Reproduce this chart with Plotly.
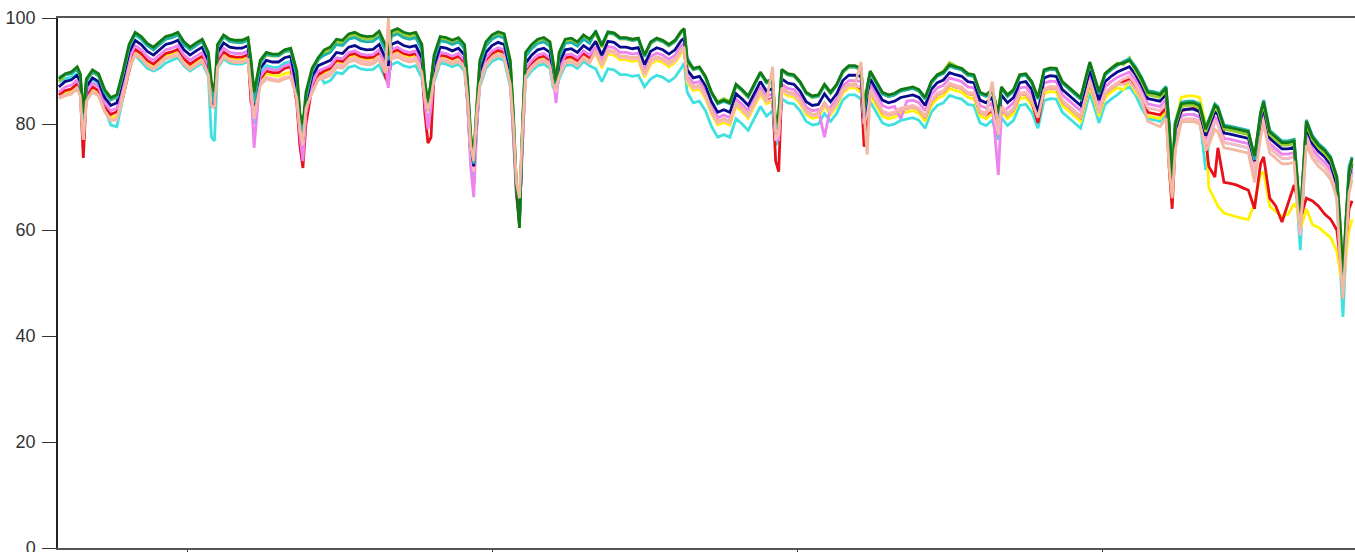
import plotly.graph_objects as go

days = [
    58, 60, 62, 64, 65, 66, 67, 69, 71, 73, 75, 77, 79, 81, 83, 85, 87, 89, 91, 93, 95, 97, 99, 101, 103,
    105, 107, 108, 109, 110, 112, 114, 116, 118, 120, 121, 122, 124, 126, 128, 130, 132, 134, 136, 137,
    138, 139, 141, 143,
    145, 147, 149, 151, 153, 155, 157, 159, 161, 163, 165, 166, 167, 169, 171, 173, 175, 177, 178, 179,
    180, 181, 183, 185, 187, 189, 191, 192, 193, 194, 195, 196, 198, 200, 202, 204, 206, 207, 208, 209,
    210, 211, 213, 215, 217, 219, 220, 221, 222, 224, 226, 228, 230, 232,
    234, 236, 238, 240, 242, 244, 246, 248, 250, 252, 254, 256, 258, 260, 262, 263, 264, 266, 268, 270,
    272, 274, 276, 278, 280, 282, 284, 286, 288, 290, 292, 293, 294, 295, 297, 299, 301, 303, 305, 307,
    309, 311, 313, 315, 317, 319,
    321, 322, 323, 324, 326, 328, 330, 332, 334, 336, 338, 340, 342, 344, 346, 348, 350, 352, 354, 356,
    358, 360, 362, 364, 366, 367, 369, 371, 373, 375, 377, 379, 381, 383, 385, 387, 389, 391, 393, 395,
    396, 398, 399, 401, 403, 405,
    407, 409, 411, 413, 415, 417, 419, 421, 422, 423, 424, 426, 428, 430, 432, 434, 435, 437, 438, 440,
    442, 444, 446, 448, 450, 452, 453, 455, 457, 459, 461, 463, 464, 465, 467, 469, 471, 473, 475, 477,
    478, 479, 480, 481, 482,
]

dark_green = [
    88.5, 89.5, 89.8, 90.8, 89.5, 82.0, 88.5, 90.2, 89.5, 86.5, 85.0, 85.5, 90.0, 95.0, 97.3, 96.5, 95.2, 94.5, 95.5, 96.5, 96.8, 97.3, 95.5, 94.5, 95.3, 96.0, 93.5, 88.0, 86.0, 95.0, 96.8, 96.0, 95.8, 95.8, 96.3, 92.0, 86.0, 92.0, 93.5, 93.2, 93.2, 94.0, 94.3, 90.0, 82.0, 80.0, 86.0, 90.5, 92.5,
    94.0, 94.5, 96.0, 95.8, 97.0, 97.3, 96.7, 96.5, 96.6, 97.5, 95.0, 93.0, 97.5, 98.0, 97.3, 97.0, 97.3, 95.0, 88.0, 84.0, 88.0, 93.0, 96.5, 96.3, 95.8, 96.3, 95.0, 88.0, 78.0, 74.0, 84.0, 92.0, 95.5, 96.8, 97.4, 97.0, 92.0, 82.0, 68.0, 60.4, 80.0, 93.5, 95.0, 96.0, 96.3, 95.5, 92.0, 88.0, 93.5, 96.0, 96.2, 95.5, 96.8, 96.0,
    97.4, 94.8, 97.4, 97.2, 96.3, 96.3, 96.0, 96.2, 93.0, 95.5, 96.2, 95.8, 95.0, 95.8, 97.5, 98.0, 92.0, 90.5, 90.8, 89.0, 86.0, 84.0, 84.5, 84.0, 87.5, 86.5, 85.3, 87.5, 89.8, 88.0, 88.5, 80.0, 82.0, 90.3, 89.5, 89.3, 88.0, 86.0, 85.3, 85.5, 87.5, 86.0, 87.5, 90.0, 91.0, 91.0,
    90.5, 83.0, 87.0, 90.0, 88.0, 86.0, 85.5, 85.8, 86.5, 86.8, 87.0, 86.5, 85.0, 88.0, 89.3, 89.8, 91.2, 90.8, 90.5, 89.5, 89.3, 86.0, 85.5, 86.5, 82.0, 87.0, 85.5, 86.5, 89.3, 89.5, 88.0, 85.0, 90.2, 90.6, 90.5, 88.0, 87.0, 86.0, 85.0, 89.5, 91.7, 88.0, 86.0, 89.5, 90.5, 91.3,
    91.5, 92.0, 90.5, 88.5, 86.0, 85.8, 85.5, 86.8, 80.0, 70.0, 80.0, 83.8, 84.0, 84.0, 83.5, 79.0, 80.5, 83.5, 83.0, 79.5, 79.3, 79.0, 78.8, 78.5, 74.0, 82.0, 84.2, 78.5, 77.5, 76.5, 76.5, 76.8, 70.0, 62.0, 80.5, 77.5, 76.0, 75.0, 73.5, 70.0, 62.0, 52.0, 62.0, 71.0, 73.5,
]

yellow_green = [
    88.0, 89.2, 89.5, 90.5, 89.0, 81.0, 88.0, 89.8, 89.0, 86.0, 84.5, 85.0, 89.5, 94.5, 97.0, 96.2, 95.0, 94.0, 95.0, 96.0, 96.4, 96.8, 95.0, 94.2, 95.0, 95.5, 93.0, 87.0, 85.0, 94.5, 96.4, 95.6, 95.4, 95.4, 95.8, 91.5, 85.0, 91.5, 93.0, 92.8, 92.8, 93.6, 93.8, 89.5, 81.5, 79.0, 85.0, 90.0, 92.0,
    93.5, 94.0, 95.5, 95.3, 96.5, 96.8, 96.2, 96.0, 96.1, 97.0, 94.5, 93.5, 97.0, 97.5, 96.8, 96.5, 96.8, 94.5, 87.5, 84.0, 88.0, 92.5, 96.0, 95.8, 95.3, 95.8, 94.5, 87.5, 78.0, 74.0, 84.0, 91.5, 95.0, 96.3, 96.9, 96.5, 91.5, 82.0, 69.0, 63.0, 80.0, 93.0, 94.5, 95.5, 95.8, 95.0, 91.5, 88.0, 93.0, 95.5, 95.7, 95.0, 96.3, 95.5,
    97.1, 94.5, 97.1, 96.9, 96.0, 96.0, 95.7, 95.9, 92.7, 95.2, 95.9, 95.5, 94.7, 95.5, 97.2, 97.7, 91.7, 90.2, 90.5, 88.7, 85.7, 84.2, 84.8, 84.3, 87.2, 86.2, 85.0, 87.2, 89.5, 87.7, 88.2, 80.0, 82.0, 90.0, 89.2, 89.0, 87.7, 85.7, 85.0, 85.2, 87.2, 85.7, 87.2, 89.7, 90.7, 90.7,
    90.2, 83.0, 86.7, 89.7, 87.7, 85.7, 85.2, 85.5, 86.2, 86.5, 86.7, 86.2, 84.7, 87.7, 89.3, 90.0, 91.6, 91.0, 90.2, 89.2, 89.0, 85.7, 85.2, 86.2, 82.0, 86.7, 85.2, 86.2, 89.0, 89.2, 87.7, 84.7, 89.9, 90.3, 90.2, 87.7, 86.7, 85.7, 84.7, 89.2, 91.4, 88.0, 86.0, 89.5, 90.5, 91.5,
    91.2, 92.5, 90.0, 88.0, 85.5, 85.3, 85.0, 86.3, 79.5, 70.0, 79.5, 83.3, 83.5, 83.5, 83.0, 78.5, 80.0, 83.0, 82.5, 79.0, 78.8, 78.5, 78.3, 78.0, 73.5, 81.5, 83.7, 78.0, 77.0, 76.0, 76.0, 76.3, 69.5, 62.0, 80.0, 77.0, 75.5, 74.5, 73.0, 69.5, 61.5, 52.0, 61.5, 70.5, 73.0,
]

teal = [
    88.8, 89.3, 89.5, 90.3, 89.2, 79.0, 88.2, 89.8, 89.2, 86.0, 84.6, 85.2, 89.5, 94.5, 96.8, 96.0, 94.8, 94.0, 95.0, 96.0, 96.3, 96.8, 95.0, 94.0, 94.8, 95.6, 93.0, 86.0, 84.0, 94.5, 96.5, 95.6, 95.4, 95.3, 95.9, 91.0, 84.0, 91.5, 93.2, 92.9, 92.9, 93.7, 94.0, 89.0, 81.0, 78.0, 85.0, 90.0, 92.2,
    93.0, 93.5, 95.0, 94.8, 96.0, 96.3, 95.7, 95.5, 95.6, 96.5, 94.0, 92.0, 96.5, 97.0, 96.3, 96.0, 96.3, 94.0, 87.0, 83.5, 87.5, 92.2, 95.7, 95.5, 95.0, 95.5, 94.2, 87.0, 77.0, 72.5, 83.0, 91.2, 94.7, 96.0, 96.6, 96.2, 91.2, 81.0, 68.0, 62.0, 79.0, 92.7, 94.2, 95.2, 95.5, 94.7, 91.2, 87.5, 92.7, 95.2, 95.4, 94.7, 96.0, 95.2,
    97.6, 95.0, 97.2, 97.0, 96.1, 96.1, 95.8, 96.0, 92.8, 95.3, 96.0, 95.6, 94.8, 95.6, 97.3, 97.8, 92.5, 90.3, 90.6, 88.8, 85.8, 83.8, 84.3, 83.8, 87.3, 86.3, 85.1, 87.3, 89.6, 87.8, 88.3, 79.0, 81.0, 90.1, 89.3, 89.1, 87.8, 85.8, 85.1, 85.3, 87.3, 85.8, 87.3, 89.8, 90.8, 90.8,
    90.2, 82.0, 86.7, 89.7, 87.7, 85.7, 85.2, 85.5, 86.2, 86.5, 86.7, 86.2, 84.7, 87.7, 89.0, 89.5, 90.9, 90.5, 90.2, 89.2, 89.0, 85.7, 85.2, 86.2, 81.0, 86.7, 85.2, 86.2, 89.0, 89.2, 87.7, 84.7, 89.9, 90.3, 90.2, 87.7, 86.7, 85.7, 84.7, 89.2, 91.4, 87.7, 85.7, 89.2, 90.2, 91.0,
    91.8, 92.3, 90.8, 88.8, 86.3, 86.1, 85.8, 87.1, 80.3, 70.0, 80.3, 84.1, 84.3, 84.3, 83.8, 79.3, 80.8, 83.8, 83.3, 79.8, 79.6, 79.3, 79.1, 78.8, 73.2, 82.3, 84.5, 78.8, 77.8, 76.8, 76.8, 77.1, 70.0, 62.0, 80.8, 77.8, 76.3, 75.3, 73.8, 70.0, 58.0, 47.0, 62.0, 72.0, 73.8,
]

navy = [
    87.0, 88.0, 88.3, 89.2, 88.0, 78.0, 87.0, 88.7, 88.0, 85.0, 83.5, 84.0, 88.5, 93.5, 95.8, 95.0, 93.7, 93.0, 94.0, 95.0, 95.3, 95.8, 94.0, 93.0, 93.8, 94.5, 92.0, 85.0, 83.0, 93.5, 95.3, 94.5, 94.3, 94.3, 94.8, 89.0, 83.0, 90.5, 92.0, 91.7, 91.7, 92.5, 92.8, 87.0, 80.0, 77.0, 84.0, 89.0, 91.0,
    91.5, 92.0, 93.5, 93.3, 94.5, 94.8, 94.2, 94.0, 94.1, 95.0, 92.5, 91.0, 95.0, 95.5, 94.8, 94.5, 94.8, 92.5, 86.0, 82.5, 86.5, 91.0, 94.5, 94.3, 93.8, 94.3, 93.0, 86.0, 76.5, 72.0, 82.0, 90.0, 93.5, 94.8, 95.4, 95.0, 90.0, 80.0, 67.5, 61.0, 79.0, 91.5, 93.0, 94.0, 94.3, 93.5, 90.0, 87.0, 91.5, 94.0, 94.2, 93.5, 94.8, 94.0,
    95.6, 93.0, 95.6, 95.4, 94.5, 94.5, 94.2, 94.4, 91.2, 93.7, 94.4, 94.0, 93.2, 94.0, 95.7, 96.2, 90.2, 88.7, 89.0, 87.2, 84.2, 82.2, 82.7, 82.2, 85.7, 84.7, 83.5, 85.7, 88.0, 86.2, 86.7, 78.0, 80.0, 88.5, 87.7, 87.5, 86.2, 84.2, 83.5, 83.7, 85.7, 84.2, 85.7, 88.2, 89.2, 89.2,
    89.0, 81.0, 85.5, 88.5, 86.5, 84.5, 84.0, 84.3, 85.0, 85.3, 85.5, 85.0, 83.5, 86.5, 87.8, 88.3, 89.7, 89.3, 89.0, 88.0, 87.8, 84.5, 84.0, 85.0, 80.0, 85.5, 84.0, 85.0, 87.8, 88.0, 86.5, 82.0, 88.7, 89.1, 89.0, 86.5, 85.5, 84.5, 83.5, 88.0, 90.2, 86.5, 84.5, 88.0, 89.0, 89.8,
    90.3, 90.8, 89.3, 87.3, 84.8, 84.6, 84.3, 85.6, 78.8, 69.0, 78.8, 82.6, 82.8, 82.8, 82.3, 77.8, 79.3, 82.3, 81.8, 78.3, 78.1, 77.8, 77.6, 77.3, 73.0, 80.8, 83.0, 77.3, 76.3, 75.3, 75.3, 75.6, 68.8, 61.0, 79.3, 76.3, 74.8, 73.8, 72.3, 68.5, 58.0, 50.0, 60.0, 70.0, 72.5,
]

violet = [
    86.0, 87.0, 87.3, 88.3, 87.0, 77.0, 86.0, 87.7, 87.0, 84.0, 82.5, 83.0, 87.5, 92.5, 94.8, 94.0, 92.7, 92.0, 93.0, 94.0, 94.3, 94.8, 93.0, 92.0, 92.8, 93.5, 91.0, 84.0, 83.0, 92.5, 94.3, 93.5, 93.3, 93.3, 93.8, 86.0, 75.5, 89.0, 90.5, 90.2, 90.2, 91.0, 91.3, 85.0, 78.0, 73.0, 82.0, 87.5, 90.0,
    90.5, 91.0, 92.5, 92.3, 93.5, 93.8, 93.2, 93.0, 93.1, 94.0, 91.5, 86.8, 94.0, 94.5, 93.8, 93.5, 93.8, 91.5, 84.0, 79.0, 83.0, 90.0, 93.5, 93.3, 92.8, 93.3, 92.0, 84.0, 72.0, 66.2, 79.0, 89.0, 92.5, 93.8, 94.4, 94.0, 89.0, 78.0, 66.0, 62.3, 78.0, 90.5, 92.0, 93.0, 93.3, 92.5, 89.0, 84.0, 90.5, 93.0, 93.2, 92.5, 93.8, 93.0,
    94.6, 92.0, 94.6, 94.4, 93.5, 93.5, 93.2, 93.4, 90.2, 92.7, 93.4, 93.0, 92.2, 93.0, 94.7, 95.2, 89.2, 87.7, 88.0, 86.2, 83.2, 81.2, 81.7, 81.2, 84.7, 83.7, 82.5, 84.7, 87.0, 85.2, 85.7, 77.0, 77.0, 87.5, 86.7, 86.5, 85.2, 83.2, 82.5, 82.7, 77.5, 83.2, 84.7, 87.2, 88.2, 88.2,
    88.0, 80.0, 83.0, 87.5, 85.5, 83.5, 83.0, 83.3, 81.0, 84.3, 84.5, 84.0, 82.5, 85.5, 86.8, 87.3, 88.7, 88.3, 88.0, 87.0, 86.8, 83.5, 83.0, 84.0, 70.4, 82.0, 83.0, 84.0, 86.8, 87.0, 85.5, 82.5, 87.7, 88.1, 88.0, 85.5, 84.5, 83.5, 82.5, 87.0, 89.2, 85.5, 83.5, 87.0, 88.0, 88.8,
    89.3, 89.8, 88.3, 86.3, 83.8, 83.6, 83.3, 84.6, 77.8, 68.0, 77.8, 81.6, 81.8, 81.8, 81.3, 76.8, 78.3, 81.3, 80.8, 77.3, 77.1, 76.8, 76.6, 76.3, 72.0, 79.8, 82.0, 76.3, 75.3, 74.3, 74.3, 74.6, 67.8, 60.0, 78.3, 75.3, 73.8, 72.8, 71.3, 67.5, 57.0, 49.0, 59.0, 69.0, 71.5,
]

red = [
    85.5, 86.3, 86.6, 87.6, 86.3, 73.6, 85.3, 87.0, 86.3, 83.3, 81.8, 82.3, 85.0, 90.0, 94.1, 93.3, 92.0, 91.3, 92.3, 93.3, 93.6, 94.1, 92.3, 91.3, 92.1, 92.8, 90.3, 83.6, 84.0, 91.8, 93.6, 92.8, 92.6, 92.6, 93.1, 84.0, 82.5, 88.5, 90.0, 89.7, 89.7, 90.5, 90.8, 84.0, 76.0, 71.7, 80.0, 87.0, 89.3,
    90.0, 90.5, 92.0, 91.8, 93.0, 93.3, 92.7, 92.5, 92.6, 93.5, 89.0, 87.5, 93.5, 94.0, 93.3, 93.0, 93.3, 91.0, 82.0, 76.4, 77.5, 89.5, 93.0, 92.8, 92.3, 92.8, 91.5, 84.0, 74.0, 71.0, 80.0, 88.5, 92.0, 93.3, 93.9, 93.5, 88.5, 79.0, 68.0, 63.0, 78.0, 90.0, 91.5, 92.5, 92.8, 92.0, 88.5, 86.0, 90.0, 92.5, 92.7, 92.0, 93.3, 92.5,
    93.8, 91.2, 93.8, 93.6, 92.7, 92.7, 92.4, 92.6, 89.4, 91.9, 92.6, 92.2, 91.4, 92.2, 93.9, 94.4, 88.4, 86.9, 87.2, 85.4, 82.4, 80.4, 80.9, 80.4, 83.9, 82.9, 81.7, 83.9, 86.2, 84.4, 84.9, 73.0, 71.0, 86.7, 85.9, 85.7, 84.4, 82.4, 81.7, 81.9, 83.9, 82.4, 83.9, 86.4, 87.4, 87.4,
    86.7, 75.7, 80.0, 86.2, 84.2, 82.2, 81.7, 82.0, 82.7, 83.0, 83.2, 82.7, 81.2, 84.2, 85.5, 86.0, 87.4, 87.0, 86.7, 85.7, 85.5, 82.2, 81.7, 82.7, 78.0, 83.2, 81.7, 82.7, 85.5, 85.7, 84.2, 80.2, 86.4, 86.8, 86.7, 84.2, 83.2, 82.2, 81.2, 85.7, 87.9, 84.2, 82.2, 85.7, 86.7, 87.5,
    88.0, 88.4, 86.7, 85.0, 82.2, 82.0, 81.7, 83.0, 72.0, 64.0, 76.0, 82.5, 82.8, 83.0, 82.5, 77.0, 72.0, 70.0, 75.5, 69.0, 68.8, 68.5, 68.0, 67.5, 64.0, 72.5, 73.8, 66.0, 64.5, 61.5, 65.0, 68.5, 66.0, 62.0, 66.0, 65.5, 64.5, 63.0, 62.0, 60.0, 55.0, 50.0, 58.0, 64.0, 65.5,
]

yellow = [
    85.5, 86.0, 86.2, 87.2, 86.0, 78.0, 85.0, 86.6, 86.0, 83.0, 81.2, 81.5, 86.0, 91.0, 93.7, 92.8, 91.6, 91.0, 92.0, 92.8, 93.2, 93.6, 92.0, 91.0, 91.8, 92.5, 90.0, 84.0, 83.0, 91.5, 93.2, 92.4, 92.2, 92.2, 92.7, 86.0, 81.5, 88.0, 89.5, 89.2, 89.0, 89.5, 89.8, 85.5, 79.0, 76.0, 83.0, 86.5, 89.0,
    89.7, 90.2, 91.7, 91.5, 92.7, 93.0, 92.4, 92.2, 92.3, 93.2, 90.7, 90.0, 93.2, 93.7, 93.0, 92.7, 93.0, 90.7, 85.0, 83.6, 85.5, 89.2, 92.7, 92.5, 92.0, 92.5, 91.2, 85.0, 76.0, 74.2, 82.0, 88.2, 91.7, 93.0, 93.6, 93.2, 88.2, 80.0, 68.0, 64.0, 78.0, 89.7, 91.2, 92.2, 92.5, 91.7, 88.2, 86.5, 89.7, 92.2, 92.4, 91.7, 93.0, 92.2,
    93.2, 90.6, 93.2, 93.0, 92.1, 92.1, 91.8, 92.0, 88.8, 91.3, 92.0, 91.6, 90.8, 91.6, 93.3, 93.8, 87.8, 86.3, 86.6, 84.8, 81.8, 79.8, 80.3, 79.8, 83.3, 82.3, 81.1, 83.3, 85.6, 83.8, 84.3, 77.0, 78.0, 86.1, 85.3, 85.1, 83.8, 81.8, 81.1, 81.3, 83.3, 81.8, 83.3, 85.8, 86.8, 86.8,
    86.0, 80.0, 82.0, 85.5, 83.5, 81.5, 81.0, 81.3, 82.0, 82.3, 82.5, 82.0, 80.5, 83.5, 84.8, 85.3, 86.7, 86.3, 86.0, 85.0, 84.8, 81.5, 81.0, 82.0, 78.0, 82.5, 81.0, 82.0, 84.8, 85.0, 83.5, 81.0, 85.7, 86.1, 86.0, 83.5, 82.5, 81.5, 80.5, 85.0, 87.2, 83.5, 81.5, 85.0, 86.0, 86.8,
    86.5, 88.0, 86.0, 84.5, 81.5, 81.3, 81.0, 82.5, 72.0, 65.0, 80.0, 85.0, 85.3, 85.3, 85.0, 80.0, 68.0, 65.7, 64.5, 63.2, 62.8, 62.5, 62.2, 62.0, 65.0, 70.5, 71.0, 64.5, 63.5, 62.5, 63.0, 65.0, 64.0, 60.0, 64.0, 61.0, 60.5, 59.5, 58.5, 56.0, 52.0, 48.7, 55.0, 60.0, 62.0,
]

light_pink = [
    85.0, 85.5, 85.8, 86.8, 85.5, 77.5, 84.5, 86.2, 85.5, 82.5, 80.8, 81.0, 85.5, 90.5, 93.3, 92.5, 91.2, 90.5, 91.5, 92.5, 92.8, 93.3, 91.5, 90.5, 91.3, 92.0, 89.5, 83.5, 83.0, 91.0, 92.8, 92.0, 91.8, 91.8, 92.3, 87.0, 81.0, 87.5, 88.8, 88.5, 88.3, 88.8, 89.0, 85.0, 79.0, 76.0, 83.0, 86.0, 88.5,
    89.2, 89.7, 91.2, 91.0, 92.2, 92.5, 91.9, 91.7, 91.8, 92.7, 90.2, 91.0, 92.7, 93.2, 92.5, 92.2, 92.5, 90.2, 85.0, 82.0, 85.0, 88.8, 92.3, 92.1, 91.6, 92.1, 90.8, 85.0, 75.0, 71.0, 81.0, 87.8, 91.3, 92.6, 93.2, 92.8, 87.8, 79.0, 67.0, 63.0, 78.0, 89.3, 90.8, 91.8, 92.1, 91.3, 87.8, 86.0, 89.3, 91.8, 92.0, 91.3, 92.6, 91.8,
    93.6, 91.0, 93.6, 93.4, 92.5, 92.5, 92.2, 92.4, 89.2, 91.7, 92.4, 92.0, 91.2, 92.0, 93.7, 94.2, 88.2, 86.7, 87.0, 85.2, 82.2, 80.2, 80.7, 80.2, 83.7, 82.7, 81.5, 83.7, 86.0, 84.2, 84.7, 77.0, 78.0, 86.5, 85.7, 85.5, 84.2, 82.2, 81.5, 81.7, 83.7, 82.2, 83.7, 86.2, 87.2, 87.2,
    87.0, 80.0, 82.0, 86.5, 84.5, 82.5, 82.0, 82.3, 83.0, 83.3, 83.5, 83.0, 81.5, 84.5, 85.8, 86.3, 87.7, 87.3, 87.0, 86.0, 85.8, 82.5, 82.0, 83.0, 78.0, 83.5, 82.0, 83.0, 85.8, 86.0, 84.5, 81.5, 86.7, 87.1, 87.0, 84.5, 83.5, 82.5, 81.5, 86.0, 88.2, 84.5, 82.5, 86.0, 87.0, 87.8,
    88.5, 89.0, 87.5, 85.5, 83.0, 82.8, 82.5, 83.8, 76.0, 67.0, 77.0, 80.8, 81.0, 81.0, 80.5, 76.0, 77.5, 80.5, 80.0, 76.5, 76.3, 76.0, 75.8, 75.5, 71.0, 79.0, 81.2, 75.5, 74.5, 73.5, 73.5, 73.8, 67.0, 59.0, 77.5, 74.5, 73.0, 72.0, 70.5, 67.0, 56.0, 48.0, 58.0, 68.0, 70.5,
]

peach = [
    84.8, 85.3, 85.6, 86.6, 85.3, 77.0, 84.3, 86.0, 85.3, 82.3, 80.6, 80.8, 85.0, 90.3, 93.0, 92.3, 91.0, 90.3, 91.3, 92.3, 92.6, 93.0, 91.3, 90.3, 91.1, 91.8, 89.3, 83.5, 83.0, 90.8, 92.6, 91.8, 91.6, 91.6, 92.1, 87.0, 81.5, 87.3, 88.5, 88.2, 88.0, 88.5, 88.8, 85.0, 79.0, 76.5, 83.0, 85.8, 88.3,
    88.7, 89.2, 90.7, 90.5, 91.7, 92.0, 91.4, 91.2, 91.3, 92.2, 89.7, 100.0, 92.2, 92.7, 92.0, 91.7, 92.0, 89.7, 85.0, 82.5, 85.0, 88.5, 92.0, 91.8, 91.3, 91.8, 90.5, 85.0, 76.0, 73.0, 82.0, 87.5, 91.0, 92.3, 92.9, 92.5, 87.5, 80.0, 69.0, 66.0, 79.0, 89.0, 90.5, 91.5, 91.8, 91.0, 87.5, 87.0, 89.0, 91.5, 91.7, 91.0, 92.3, 91.5,
    93.9, 91.3, 93.9, 93.7, 92.8, 92.8, 92.5, 92.7, 89.5, 92.0, 92.7, 92.3, 91.5, 92.3, 94.0, 94.5, 88.5, 87.0, 87.3, 85.5, 82.5, 80.5, 81.0, 80.5, 84.0, 83.0, 81.8, 84.0, 86.3, 84.5, 90.8, 78.0, 79.0, 86.8, 86.0, 85.8, 84.5, 82.5, 81.8, 82.0, 84.0, 82.5, 84.0, 86.5, 87.5, 87.5,
    91.7, 82.0, 74.2, 86.2, 84.2, 82.2, 81.7, 82.0, 82.7, 83.0, 83.2, 82.7, 81.2, 84.2, 85.5, 86.0, 87.4, 87.0, 86.7, 85.7, 85.5, 82.2, 81.7, 88.0, 79.0, 83.2, 81.7, 82.7, 85.5, 85.7, 84.2, 81.2, 86.4, 86.8, 86.7, 84.2, 83.2, 82.2, 81.2, 85.7, 87.9, 84.2, 82.0, 85.7, 86.7, 87.5,
    87.5, 88.0, 86.5, 84.5, 80.5, 80.0, 79.5, 81.0, 72.0, 66.0, 75.0, 80.4, 80.5, 80.5, 80.0, 75.0, 76.0, 79.0, 78.5, 75.5, 75.3, 75.0, 74.8, 74.5, 69.0, 77.5, 80.0, 74.5, 73.5, 72.5, 72.5, 72.8, 65.0, 60.0, 76.0, 73.5, 72.0, 71.0, 69.5, 66.0, 55.0, 47.0, 57.0, 67.0, 69.5,
]

cyan = [
    88.0, 88.5, 88.8, 89.5, 88.0, 76.6, 87.5, 88.5, 87.5, 83.0, 79.8, 79.5, 85.0, 91.0, 93.0, 91.8, 90.5, 90.0, 90.5, 91.5, 92.0, 92.5, 91.0, 90.0, 90.8, 91.5, 89.0, 77.5, 76.8, 90.5, 92.3, 91.5, 91.3, 91.3, 91.8, 88.0, 80.0, 89.5, 91.0, 90.7, 90.7, 91.5, 91.8, 85.5, 79.0, 75.0, 83.5, 88.0, 90.0,
    87.7, 88.2, 89.7, 89.5, 90.7, 91.0, 90.4, 90.2, 90.3, 91.2, 88.7, 89.0, 91.2, 91.7, 91.0, 90.7, 91.0, 88.7, 84.0, 81.5, 85.0, 88.0, 91.5, 91.3, 90.8, 91.3, 90.0, 84.0, 73.0, 69.8, 80.0, 87.0, 90.5, 91.8, 92.4, 92.0, 87.0, 79.0, 67.0, 65.3, 78.0, 88.5, 90.0, 91.0, 91.3, 90.5, 87.0, 86.0, 88.5, 91.0, 91.2, 90.5, 91.8, 91.0,
    90.4, 88.0, 90.4, 90.2, 89.3, 89.3, 89.0, 89.2, 87.0, 88.5, 89.2, 88.8, 88.0, 88.8, 90.5, 91.5, 86.0, 84.0, 84.3, 82.5, 79.5, 77.5, 78.0, 77.5, 81.0, 80.0, 78.8, 81.0, 83.3, 81.5, 82.5, 76.0, 77.0, 84.8, 84.0, 83.8, 82.5, 80.5, 79.8, 80.0, 82.0, 80.5, 82.0, 84.5, 85.5, 85.5,
    84.7, 79.0, 81.0, 84.2, 82.2, 80.2, 79.7, 80.0, 80.7, 81.0, 81.2, 80.7, 79.2, 82.2, 83.5, 84.0, 85.4, 85.0, 84.7, 83.7, 83.5, 80.2, 79.7, 80.7, 77.0, 81.2, 79.7, 80.7, 83.5, 83.7, 82.2, 79.2, 84.4, 84.8, 84.7, 82.2, 81.2, 80.2, 79.2, 83.7, 85.9, 82.2, 80.2, 83.7, 84.7, 85.5,
    86.5, 87.0, 85.5, 83.0, 81.0, 80.8, 80.5, 81.8, 75.0, 68.0, 77.0, 81.5, 81.8, 81.8, 81.3, 71.3, 76.5, 80.5, 80.0, 76.5, 76.3, 76.0, 75.8, 75.5, 70.5, 79.0, 81.2, 75.5, 74.5, 73.5, 73.5, 73.8, 65.0, 56.2, 77.5, 74.5, 73.0, 72.0, 70.5, 66.0, 54.0, 43.6, 56.0, 68.0, 71.0,
]

y_ticks = [0, 20, 40, 60, 80, 100]
x_ticks = [100, 200, 300, 400]

series = [
    ("cyan", cyan, "#3FE0E0"),
    ("yellow", yellow, "#FFF200"),
    ("red", red, "#E8101A"),
    ("violet", violet, "#EE82EE"),
    ("light pink", light_pink, "#FFB6C1"),
    ("navy", navy, "#0A0A8C"),
    ("yellow green", yellow_green, "#9ACD32"),
    ("teal", teal, "#20B2AA"),
    ("dark green", dark_green, "#127A12"),
    ("peach", peach, "#F2B8A2"),
]

fig = go.Figure()
for name, vals, color in series:
    assert len(vals) == len(days), (name, len(vals), len(days))
    fig.add_trace(go.Scatter(x=days, y=vals, mode="lines", name=name,
                             line=dict(color=color, width=2.8)))

fig.update_layout(
    width=1355, height=552,
    margin=dict(l=58, r=0, t=18, b=4, autoexpand=False),
    paper_bgcolor="white", plot_bgcolor="white",
    showlegend=False,
    font=dict(family="Liberation Sans, Arial, sans-serif", size=18, color="#333333"),
)
fig.update_xaxes(
    range=[57.7, 482.95], tickvals=x_ticks, showticklabels=False,
    ticks="outside", ticklen=6, tickcolor="#333333",
    showline=True, linecolor="#555555", linewidth=2, mirror=True,
    showgrid=False, zeroline=False, automargin=False,
)
fig.update_yaxes(
    range=[0, 100], tickvals=y_ticks, ticks="outside", ticklen=14, tickwidth=1,
    tickcolor="#333333", showline=True, linecolor="#222222", linewidth=1.5,
    showgrid=False, zeroline=False, ticklabelstandoff=3, automargin=False,
    ticklabeloverflow="allow",
)
fig.write_html(
    "out.html",
    config={"displayModeBar": False},
    post_script="document.body.style.margin='0';document.body.style.overflow='hidden';",
)
